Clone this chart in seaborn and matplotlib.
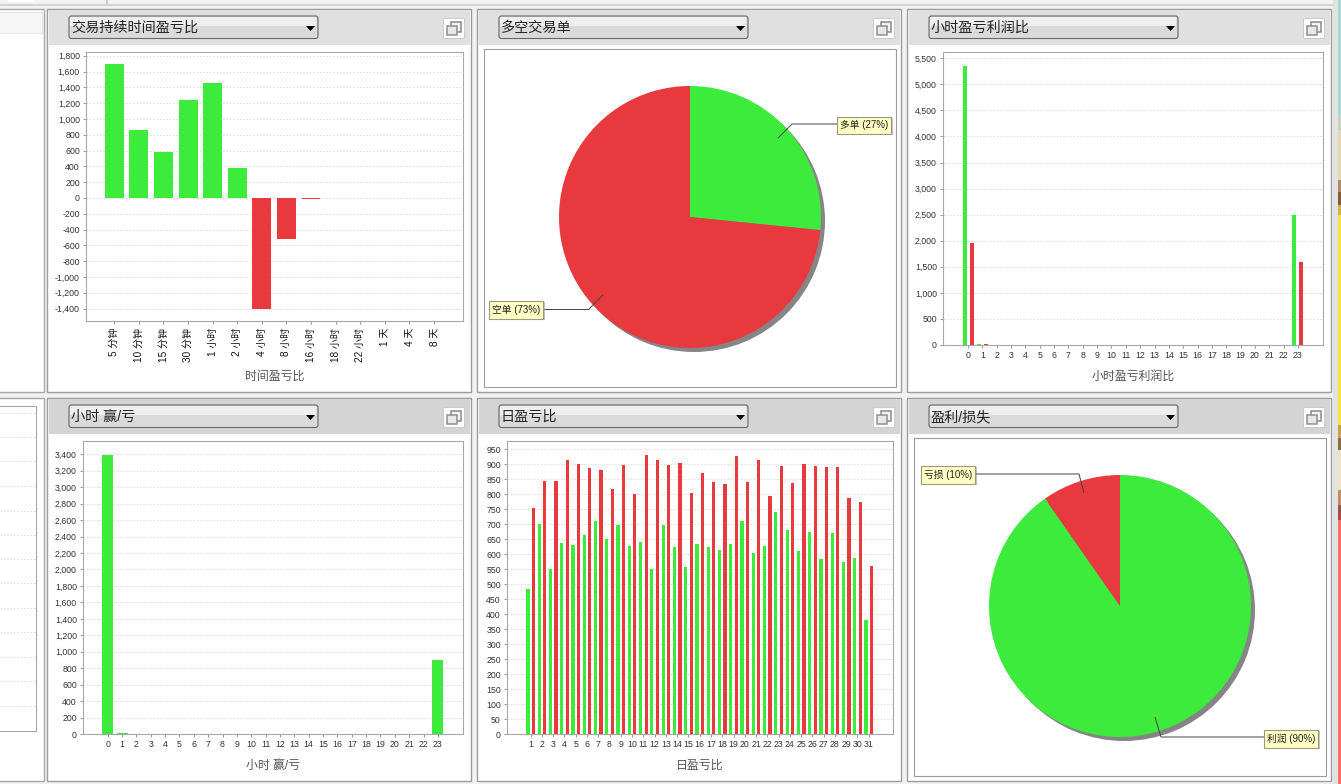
import numpy as np
import matplotlib
matplotlib.use("Agg")
import matplotlib.pyplot as plt
from matplotlib.patches import Rectangle, FancyBboxPatch
import pandas as pd
import seaborn as sns

sns.set_theme(style="white")
plt.rcParams['font.family'] = ['Liberation Sans', 'Noto Sans CJK SC', 'DejaVu Sans']

GREEN = "#3ceb3b"
RED = "#e8393e"
W, H = 1341, 784

# duration chart
duration_labels = ["5 分钟", "10 分钟", "15 分钟", "30 分钟", "1 小时", "2 小时", "4 小时",
                   "8 小时", "16 小时", "18 小时", "22 小时", "1 天", "4 天", "8 天"]
duration_values = [1690, 860, 580, 1240, 1460, 385, -1400, -525, -15, 0, 0, 0, -5, 0]

# hourly profit / loss
hours = [str(h) for h in range(24)]
hour_profit = [5350, 15] + [0] * 21 + [2500]
hour_loss = [1950, 15] + [0] * 21 + [1600]

# hourly win / loss
hour_net = [3390, 8] + [0] * 21 + [900]

# daily
days = [str(d) for d in range(1, 32)]
day_profit = [485, 700, 552, 638, 632, 665, 710, 650, 696, 627, 642, 550, 698, 624, 556, 634,
              624, 614, 633, 711, 604, 627, 741, 681, 612, 674, 585, 671, 573, 586, 381]
day_loss = [755, 843, 843, 915, 901, 889, 882, 818, 898, 802, 931, 914, 898, 904, 804, 871,
            841, 836, 928, 841, 914, 794, 894, 838, 901, 893, 890, 891, 787, 776, 562]

# pies
side_labels = ["多单 (27%)", "空单 (73%)"]
side_values = [26.6, 73.4]
pnl_labels = ["利润 (90%)", "亏损 (10%)"]
pnl_values = [90.3, 9.7]

titles = ["交易持续时间盈亏比", "多空交易单", "小时盈亏利润比", "小时 赢/亏", "日盈亏比", "盈利/损失"]

fig = plt.figure(figsize=(W / 100, H / 100), dpi=100, facecolor="#f1f1f1")

# overlay in pixel coordinates for the window chrome
bg = fig.add_axes([0, 0, 1, 1], zorder=0)
bg.set_xlim(0, W)
bg.set_ylim(H, 0)
bg.axis("off")
top = fig.add_axes([0, 0, 1, 1], zorder=10)
top.set_xlim(0, W)
top.set_ylim(H, 0)
top.axis("off")
top.patch.set_alpha(0)


def rect(ax, x0, y0, x1, y1, fc="none", ec="none", lw=0.75, z=1):
    ax.add_patch(Rectangle((x0, y0), x1 - x0, y1 - y0, facecolor=fc, edgecolor=ec, linewidth=lw, zorder=z))


def panel(x0, y0, title, shade):
    x1 = x0 + 424
    y1 = y0 + 383
    rect(bg, x0 + 0.5, y0 + 0.5, x1 + 0.5, y1 + 0.5, fc="white", ec="#9c9c9c", lw=1.0)
    # header
    rect(bg, x0 + 2, y0 + 2, x1 - 1, y0 + 37, fc=shade, z=2)
    # dropdown
    dx, dy = x0 + 22, y0 + 8
    bg.add_patch(FancyBboxPatch((dx, dy), 249, 22.5, boxstyle="round,pad=0,rounding_size=2.5",
                                facecolor="#dcdcdc", edgecolor="#666666", linewidth=0.8, zorder=3))
    rect(bg, dx + 1.5, dy + 1, dx + 247.5, dy + 10, fc="#efefef", z=4)
    rect(bg, dx + 1.5, dy + 10, dx + 247.5, dy + 21, fc="#dadada", z=4)
    bg.text(dx + 2, dy + 12, title, fontsize=10.2, color="#222222", va="center", ha="left", zorder=5)
    bg.fill([dx + 237, dx + 246, dx + 241.5], [dy + 10, dy + 10, dy + 15], color="black", lw=0, zorder=5)
    # restore icon
    ix, iy = x0 + 396, y0 + 9
    rect(bg, ix + 0.5, iy + 0.5, ix + 21, iy + 21, fc="white", ec="#cccccc", z=3)
    rect(bg, ix + 8, iy + 5, ix + 18, iy + 15, fc="#f4f4f4", ec="#8a8a8a", lw=1.1, z=4)
    rect(bg, ix + 4, iy + 9, ix + 14, iy + 18, fc="#e8e8e8", ec="#8f8f8f", lw=1.1, z=5)


def plot_axes(x0, y0, x1, y1):
    ax = fig.add_axes([x0 / W, 1 - y1 / H, (x1 - x0) / W, (y1 - y0) / H], zorder=5)
    return ax


def style_axes(ax, yticks, xlabel, xlim, ylim, rotate=False):
    ax.set_xlim(*xlim)
    ax.set_ylim(*ylim)
    ax.set_yticks(yticks)
    ax.set_yticklabels([f"{t:,}" for t in yticks])
    ax.grid(axis="y", color="#d8d8d8", linestyle=(0, (2, 2)), linewidth=0.6)
    ax.set_axisbelow(True)
    ax.tick_params(axis="both", length=2.2, width=0.6, color="#888888", labelsize=6.3,
                   labelcolor="#333333", pad=2.2, left=True, bottom=True)
    if rotate:
        ax.tick_params(axis="x", labelrotation=90, labelsize=7.2, labelcolor="#111111", pad=2.8)
    for s in ax.spines.values():
        s.set_color("#a8a8a8")
        s.set_linewidth(0.8)
    ax.set_xlabel(xlabel, fontsize=8.6, color="#555555")
    ax.set_ylabel("")


def bars_pair(ax, cats, a, b):
    df = pd.DataFrame({"cat": cats * 2, "v": a + b, "kind": ["win"] * len(a) + ["loss"] * len(b)})
    sns.barplot(data=df, x="cat", y="v", hue="kind", palette={"win": GREEN, "loss": RED},
                width=0.98, gap=0.42, saturation=1, legend=False, ax=ax, errorbar=None, linewidth=0)


def label_box(x0, y0, x1, y1, text):
    rect(top, x0 + 2, y0 + 2, x1 + 2, y1 + 2, fc="#c4c4c4", z=1)
    rect(top, x0 + 0.5, y0 + 0.5, x1 + 0.5, y1 + 0.5, fc="#ffffc4", ec="#9a9a80", lw=0.8, z=2)
    top.text((x0 + x1) / 2 + 0.5, (y0 + y1) / 2 + 0.5, text, fontsize=7, color="#222222",
             ha="center", va="center", zorder=3)


def leader(xs, ys):
    top.plot(xs, ys, color="#444444", lw=0.7, zorder=1.5, solid_capstyle="butt")


def pie_chart(box, center, values, colors, startangle, counterclock):
    bx0, by0, bx1, by1 = box
    rect(bg, bx0 + 0.5, by0 + 0.5, bx1 + 0.5, by1 + 0.5, fc="white", ec="#9c9c9c", lw=0.8, z=2)
    ax = plot_axes(bx0 + 1, by0 + 1, bx1, by1)
    r = 131.0
    flat = {"linewidth": 0}
    ax.pie([1], colors=["#858585"], radius=1.0, center=(4 / r, -4 / r), frame=True, wedgeprops=flat)
    ax.pie(values, colors=colors, startangle=startangle, counterclock=counterclock, radius=1.0,
           frame=True, wedgeprops=flat)
    ax.set_xlim((bx0 + 1 - center[0]) / r, (bx1 - center[0]) / r)
    ax.set_ylim((center[1] - by1) / r, (center[1] - by0 - 1) / r)
    ax.set_xticks([])
    ax.set_yticks([])
    ax.patch.set_alpha(0)
    for s in ax.spines.values():
        s.set_visible(False)
    return ax


# panels
panel(47, 8, titles[0], "#e0e0e0")
panel(477, 8, titles[1], "#e0e0e0")
panel(907, 8, titles[2], "#e0e0e0")
panel(47, 397, titles[3], "#d4d4d4")
panel(477, 397, titles[4], "#d4d4d4")
panel(907, 397, titles[5], "#d4d4d4")

# duration bars
ax1 = plot_axes(86, 52, 463, 321)
df1 = pd.DataFrame({"cat": duration_labels, "v": duration_values,
                    "sign": ["up" if v > 0 else "down" for v in duration_values]})
sns.barplot(data=df1, x="cat", y="v", hue="sign", palette={"up": GREEN, "down": RED}, dodge=False,
            width=0.77, saturation=1, legend=False, ax=ax1, errorbar=None, linewidth=0)
style_axes(ax1, list(range(-1400, 1801, 200)), "时间盈亏比", (-1.15, 14.18), (-1557, 1848), rotate=True)
ax1.xaxis.set_label_coords(0.5, -0.208)
ax1.xaxis.label.set_va("center")

# hourly profit / loss
ax3 = plot_axes(943, 52, 1323, 345)
bars_pair(ax3, hours, hour_profit, hour_loss)
style_axes(ax3, list(range(0, 5501, 500)), "小时盈亏利润比", (-1.75, 24.75), (0, 5621))
ax3.xaxis.set_label_coords(0.5, -0.109)
ax3.xaxis.label.set_va("center")

# hourly win / loss
ax4 = plot_axes(83, 441, 463, 734)
sns.barplot(x=hours, y=hour_net, color=GREEN, width=0.77, saturation=1, ax=ax4, errorbar=None, linewidth=0)
style_axes(ax4, list(range(0, 3401, 200)), "小时 赢/亏", (-1.72, 24.75), (0, 3562))
ax4.xaxis.set_label_coords(0.5, -0.109)
ax4.xaxis.label.set_va("center")

# daily
ax5 = plot_axes(507, 441, 893, 734)
bars_pair(ax5, days, day_profit, day_loss)
style_axes(ax5, list(range(0, 951, 50)), "日盈亏比", (-2.1, 32.15), (0, 978))
ax5.xaxis.set_label_coords(0.5, -0.109)
ax5.xaxis.label.set_va("center")

# pies
pie_chart((484, 48, 896, 386), (690, 217), side_values, [GREEN, RED], 90, False)
leader([778, 792, 837], [138, 124, 124])
leader([589, 603], [309, 295])
leader([544, 589], [309, 309])
label_box(837, 116, 891, 133, side_labels[0])
label_box(489, 300, 543, 318, side_labels[1])

pie_chart((914, 437, 1326, 775), (1120, 606), pnl_values, [GREEN, RED], 90, False)
leader([1155, 1161, 1264], [717, 737, 737])
leader([1084, 1079, 976], [493, 474, 474])
label_box(921, 465, 975, 483, pnl_labels[1])
label_box(1264, 729, 1318, 747, pnl_labels[0])

# neighbour panels cut off at the left edge
rect(bg, -2, 8.5, 44.5, 391.5, fc="white", ec="#a8a8a8", lw=1.0)
rect(bg, -2, 11.5, 42.5, 33, fc="#f7f7f7", ec="#e4e4e4", lw=0.8, z=2)
rect(bg, -2, 397.5, 44.5, 780.5, fc="white", ec="#a8a8a8", lw=1.0)
rect(bg, -2, 405.5, 36.5, 730.5, fc="white", ec="#a8a8a8", lw=0.8, z=2)
for gy in [413, 437, 461, 486, 511, 535, 559, 583, 608, 632, 657, 681, 706]:
    bg.plot([0, 35], [gy, gy], color="#d8d8d8", lw=0.6, ls=(0, (2, 2)), zorder=3)

# top strip
rect(bg, 0, 0, W, 4, fc="#f3f3f3", z=6)
rect(bg, 0, 4, W, 6, fc="#d4d4d4", z=6)
rect(bg, 8, 0, 34, 2, fc="white", z=7)
rect(bg, 106, 0, 108, 4, fc="#c8c8c8", z=7)

# desktop wallpaper peeking out on the right
rect(bg, 1333, 0, 1338, H, fc="#e2e2e2", z=6)
strip = [(0, 115, "#a8d8d4"), (115, 130, "#c4d4c4"), (130, 180, "#e8d8b0"), (180, 192, "#b08a60"),
         (192, 205, "#8a5a30"), (205, 215, "#d8b048"), (215, 425, "#fbe04a"), (425, 438, "#c8a050"),
         (438, 450, "#8a6a48"), (450, 490, "#f0e4c0"), (490, 505, "#c09060"), (505, 520, "#a05040"),
         (520, H, "#fb7466")]
for a, b, c in strip:
    rect(bg, 1338, a, W, b, fc=c, z=6)

fig.savefig("out.png", dpi=100, facecolor=fig.get_facecolor())
